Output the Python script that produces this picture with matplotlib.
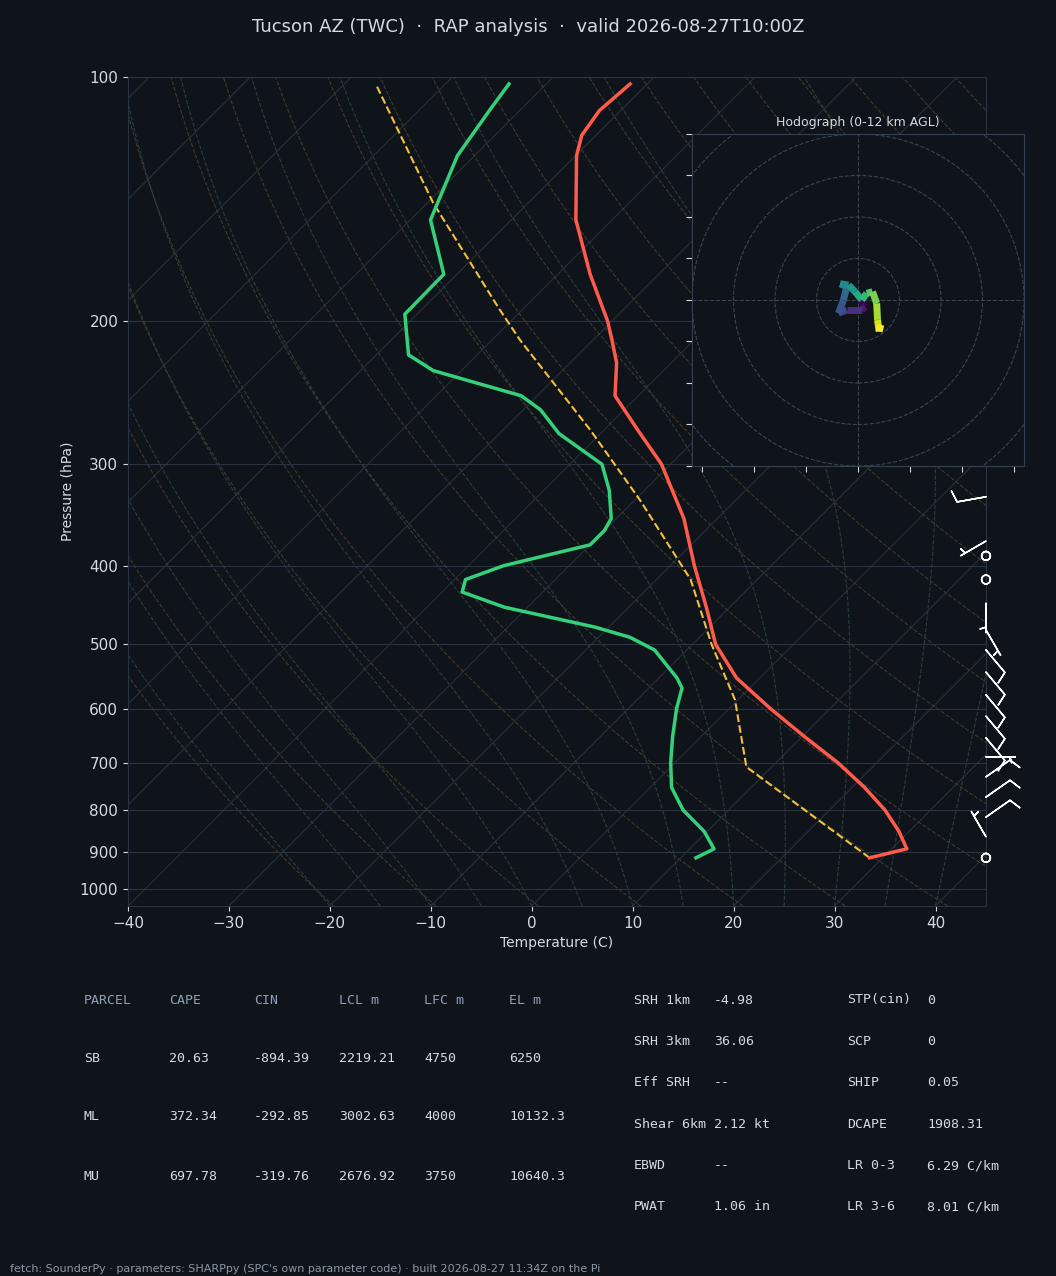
import matplotlib
matplotlib.use("Agg")
import matplotlib.pyplot as plt
import numpy as np
from matplotlib.collections import LineCollection

# ---- sounding data ----
t_pres = [916, 893, 850, 800, 750, 700, 650, 600, 550, 500, 450, 400, 350, 300,
          272, 247, 225, 211, 200, 175, 150, 125, 118, 110, 102]
t_temp = [28.7, 31.5, 29.0, 25.5, 21.2, 16.2, 10.3, 4.1, -2.3, -7.7, -12.3, -17.6,
          -23.3, -30.9, -36.7, -42.3, -45.4, -48.1, -50.4, -56.8, -63.6, -69.9, -71.4, -72.1, -71.7]

td_pres = [916, 893, 850, 800, 766, 750, 700, 650, 600, 566, 550, 508, 490, 476, 450,
           431, 416, 400, 377, 362, 350, 323, 300, 275, 257, 247, 230, 220, 196, 175,
           150, 125, 110, 102]
td_temp = [11.5, 12.4, 9.7, 5.5, 3.2, 2.1, -0.4, -2.8, -5.2, -6.7, -8.2, -13.2, -16.9,
           -21.4, -32.3, -38.0, -38.9, -36.5, -30.0, -30.0, -30.5, -33.5, -36.8, -44.1,
           -48.3, -51.6, -62.8, -66.8, -71.2, -71.3, -78.0, -81.7, -83.0, -83.7]

parcel_pres = [916, 708, 585, 500, 416, 332, 272, 211, 193, 143, 102]
parcel_temp = [28.7, 7.5, -0.3, -8.1, -16.6, -29.5, -41.4, -57.2, -62.4, -79.4, -96.9]

# wind barbs: pressure, direction (deg from), speed (kt)
wind_pres = [118, 329, 373, 389, 416, 445, 480, 508, 541, 577, 613, 652, 688, 728, 771, 816, 863, 916]
wind_dir = [160, 260, 240, 0, 0, 180, 150, 140, 140, 140, 140, 140, 90, 55, 55, 55, 330, 0]
wind_spd = [5, 10, 5, 0, 0, 5, 5, 10, 10, 10, 10, 10, 5, 10, 10, 10, 5, 0]

# hodograph trace (kt), ordered by height
hodo_u = [0.1, 1.7, 0.9, -2.7, -4.7, -3.5, -2.7, -4.3, -2.3, -0.7, 0.9, 2.1, 3.5, 4.5, 4.7, 5.1, 5.5]
hodo_v = [0.8, -1.6, -2.4, -2.4, -3.2, 0.0, 3.2, 3.9, 3.6, 2.0, 0.0, 1.6, 2.0, -0.8, -4.8, -7.6, -6.0]

parcel_rows = [["PARCEL", "CAPE", "CIN", "LCL m", "LFC m", "EL m"],
               ["SB", "20.63", "-894.39", "2219.21", "4750", "6250"],
               ["ML", "372.34", "-292.85", "3002.63", "4000", "10132.3"],
               ["MU", "697.78", "-319.76", "2676.92", "3750", "10640.3"]]
idx_left = [("SRH 1km", "-4.98"), ("SRH 3km", "36.06"), ("Eff SRH", "--"),
            ("Shear 6km", "2.12 kt"), ("EBWD", "--"), ("PWAT", "1.06 in")]
idx_right = [("STP(cin)", "0"), ("SCP", "0"), ("SHIP", "0.05"),
             ("DCAPE", "1908.31"), ("LR 0-3", "6.29 C/km"), ("LR 3-6", "8.01 C/km")]

BG = "#0f141b"
FG = "#d5dae0"
GRID = "#2a3340"
P_BOT, P_TOP = 1050, 100
SKEW = 34.93


def skew(t, p):
    return np.asarray(t) + SKEW * np.log(P_BOT / np.asarray(p))


def moist_lapse(t0, pres):
    # simple pseudo-adiabat integration
    Rd, cp, Lv, eps = 287.0, 1005.0, 2.5e6, 0.622
    out = [t0]
    t = t0 + 273.15
    for i in range(1, len(pres)):
        p = pres[i - 1]
        dp = pres[i] - p
        es = 6.112 * np.exp(17.67 * (t - 273.15) / (t - 29.65))
        rs = eps * es / (p - es)
        num = Rd * t / p + Lv * rs / p
        den = cp + Lv ** 2 * rs * eps / (Rd * t ** 2)
        t = t + num / den * dp
        out.append(t - 273.15)
    return np.array(out)


fig = plt.figure(figsize=(10.56, 12.76), dpi=100, facecolor=BG)
ax = fig.add_axes([0.1212, 0.29, 0.8125, 0.6497], facecolor=BG)
ax.set_yscale("log")
ax.set_ylim(P_BOT, P_TOP)
ax.set_xlim(-40, 45)

pp = np.linspace(P_BOT, P_TOP, 120)
# isotherms
for t in range(-120, 60, 10):
    ax.plot(skew(np.full_like(pp, t), pp), pp, color="#2a3039", lw=0.8, zorder=1)
# dry adiabats
for th in range(250, 480, 10):
    tt = th * (pp / 1000.0) ** 0.286 - 273.15
    ax.plot(skew(tt, pp), pp, color="#403a2c", lw=0.8, ls="--", zorder=1)
# moist adiabats
for t0 in range(-20, 45, 5):
    tt = moist_lapse(t0, pp)
    ax.plot(skew(tt, pp), pp, color="#2b3e3a", lw=0.8, ls="--", zorder=1)

yticks = [100, 200, 300, 400, 500, 600, 700, 800, 900, 1000]
for p in yticks:
    ax.axhline(p, color=GRID, lw=0.8, zorder=1)
ax.set_yticks(yticks)
ax.set_yticklabels([str(p) for p in yticks])
ax.minorticks_off()
ax.set_xticks(range(-40, 50, 10))

ax.plot(skew(t_temp, t_pres), t_pres, color="#ff5a4a", lw=2.5, zorder=5)
ax.plot(skew(td_temp, td_pres), td_pres, color="#35d07a", lw=2.5, zorder=5)
ax.plot(skew(parcel_temp, parcel_pres), parcel_pres, color="#f2c03a", lw=1.5, ls="--", zorder=4)

wd = np.radians(wind_dir)
u = -np.array(wind_spd) * np.sin(wd)
v = -np.array(wind_spd) * np.cos(wd)
ax.barbs(np.full(len(wind_pres), 45.0), wind_pres, u, v, color="white", length=6.5,
         linewidth=1.1, clip_on=False, zorder=6)

for s in ax.spines.values():
    s.set_color(GRID)
ax.tick_params(colors=FG, labelsize=11)
ax.set_xlabel("Temperature (C)", color=FG, fontsize=10)
ax.set_ylabel("Pressure (hPa)", color=FG, fontsize=10)

# hodograph
hx = fig.add_axes([0.6553, 0.6348, 0.3144, 0.2602], facecolor=BG)
hx.set_xlim(-40, 40)
hx.set_ylim(-40, 40)
for r in range(10, 60, 10):
    hx.add_patch(plt.Circle((0, 0), r, fill=False, color="#3a4554", lw=0.8, ls="--"))
hx.axhline(0, color="#3a4554", lw=0.8, ls="--")
hx.axvline(0, color="#3a4554", lw=0.8, ls="--")
pts = np.column_stack([hodo_u, hodo_v]).reshape(-1, 1, 2)
segs = np.concatenate([pts[:-1], pts[1:]], axis=1)
lc = LineCollection(segs, cmap="viridis", linewidths=5, capstyle="butt")
lc.set_array(np.arange(len(segs)))
hx.add_collection(lc)
hx.set_xticks([-37.5, -25, -12.5, 0, 12.5, 25, 37.5])
hx.set_yticks(range(-40, 41, 10))
hx.set_xticklabels([])
hx.set_yticklabels([])
hx.tick_params(colors=FG, length=4)
for s in hx.spines.values():
    s.set_color("#34404f")
hx.set_title("Hodograph (0-12 km AGL)", color=FG, fontsize=9, pad=6)

fig.text(0.5, 1 - 27 / 1276, "Tucson AZ (TWC)  ·  RAP analysis  ·  valid 2026-08-27T10:00Z",
         ha="center", va="center", color=FG, fontsize=13)

mono = "DejaVu Sans Mono"
col_x = [84, 169, 254, 339, 424, 509]
row_y = [1000, 1058, 1117, 1176]
for r, row in enumerate(parcel_rows):
    for c, txt in enumerate(row):
        fig.text(col_x[c] / 1056, 1 - row_y[r] / 1276, txt, family=mono, fontsize=9.5,
                 va="center", color="#8fa0b4" if r == 0 else FG)
for i, ((l1, v1), (l2, v2)) in enumerate(zip(idx_left, idx_right)):
    y = 1 - (1000 + i * 41.4) / 1276
    fig.text(634 / 1056, y, l1, family=mono, fontsize=9.5, va="center", color=FG)
    fig.text(714 / 1056, y, v1, family=mono, fontsize=9.5, va="center", color=FG)
    fig.text(847 / 1056, y, l2, family=mono, fontsize=9.5, va="center", color=FG)
    fig.text(927 / 1056, y, v2, family=mono, fontsize=9.5, va="center", color=FG)

fig.text(10 / 1056, 1 - 1269 / 1276,
         "fetch: SounderPy · parameters: SHARPpy (SPC's own parameter code) · built 2026-08-27 11:34Z on the Pi",
         fontsize=8, color="#8a97a6", va="center")

fig.savefig("out.png", dpi=100, facecolor=BG)
